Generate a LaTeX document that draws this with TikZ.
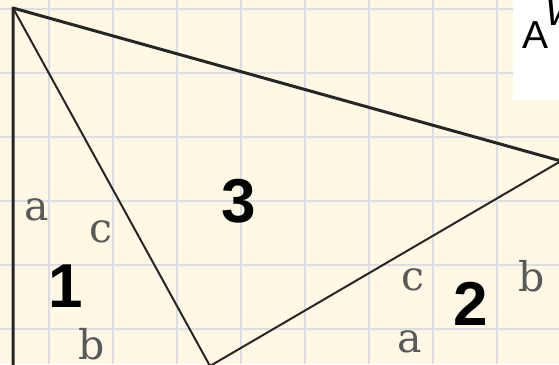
\documentclass[tikz,border=0pt]{standalone}
\usepackage{fontspec}
\setmainfont{Liberation Sans}
\newfontfamily\lblfont{DejaVu Serif}
\definecolor{paper}{HTML}{FEF8E4}
\definecolor{gridc}{HTML}{DCDDE0}
\definecolor{lblc}{HTML}{595959}
\tikzset{
  gridline/.style={draw=gridc, line width=2pt},
  thickedge/.style={draw=black!85, line width=3pt, line join=round},
  thinedge/.style={draw=black!85, line width=2pt, line join=round},
  sidelbl/.style={inner sep=0pt, anchor=base, text=lblc, font=\lblfont\fontsize{41}{41}\selectfont},
  numlbl/.style={inner sep=0pt, anchor=base, text=black, font=\bfseries\fontsize{62}{62}\selectfont},
}
\begin{document}
\begin{tikzpicture}[x=1pt,y=-1pt]
\useasboundingbox (0,0) rectangle (559,364);
\clip (0,0) rectangle (559,364);
\fill[paper] (0,0) rectangle (559,364);
\foreach \x in {49,113,...,497} \draw[gridline] (\x,0) -- (\x,364);
\foreach \y in {9,73,...,329} \draw[gridline] (0,\y) -- (559,\y);
% white box top right
\fill[white] (513,0) rectangle (559,100);
\node[inner sep=0pt, anchor=base, font=\fontsize{39}{39}\selectfont] (A) at (535.5,48) {A};
\node[inner sep=0pt, anchor=base west, font=\itshape\fontsize{39}{39}\selectfont] (W) at (545,25) {W};
% vertices
\coordinate (P) at (13,8);
\coordinate (Q) at (561,161);
\coordinate (R) at (210,366);
\coordinate (S) at (13,372);
\draw[thickedge] (S) -- (P) -- (Q);
\draw[thinedge] (P) -- (R) -- (Q);
% labels
\node[sidelbl] (a1) at (37,220) {a};
\node[sidelbl] (c1) at (101,242) {c};
\node[sidelbl] (b1) at (92,359) {b};
\node[sidelbl] (c2) at (413,290) {c};
\node[sidelbl] (b2) at (532,291) {b};
\node[sidelbl] (a2) at (410,352) {a};
\node[numlbl] (n1) at (66,307) {1};
\node[numlbl] (n3) at (239,222) {3};
\node[numlbl] (n2) at (471,325) {2};
\end{tikzpicture}
\end{document}
